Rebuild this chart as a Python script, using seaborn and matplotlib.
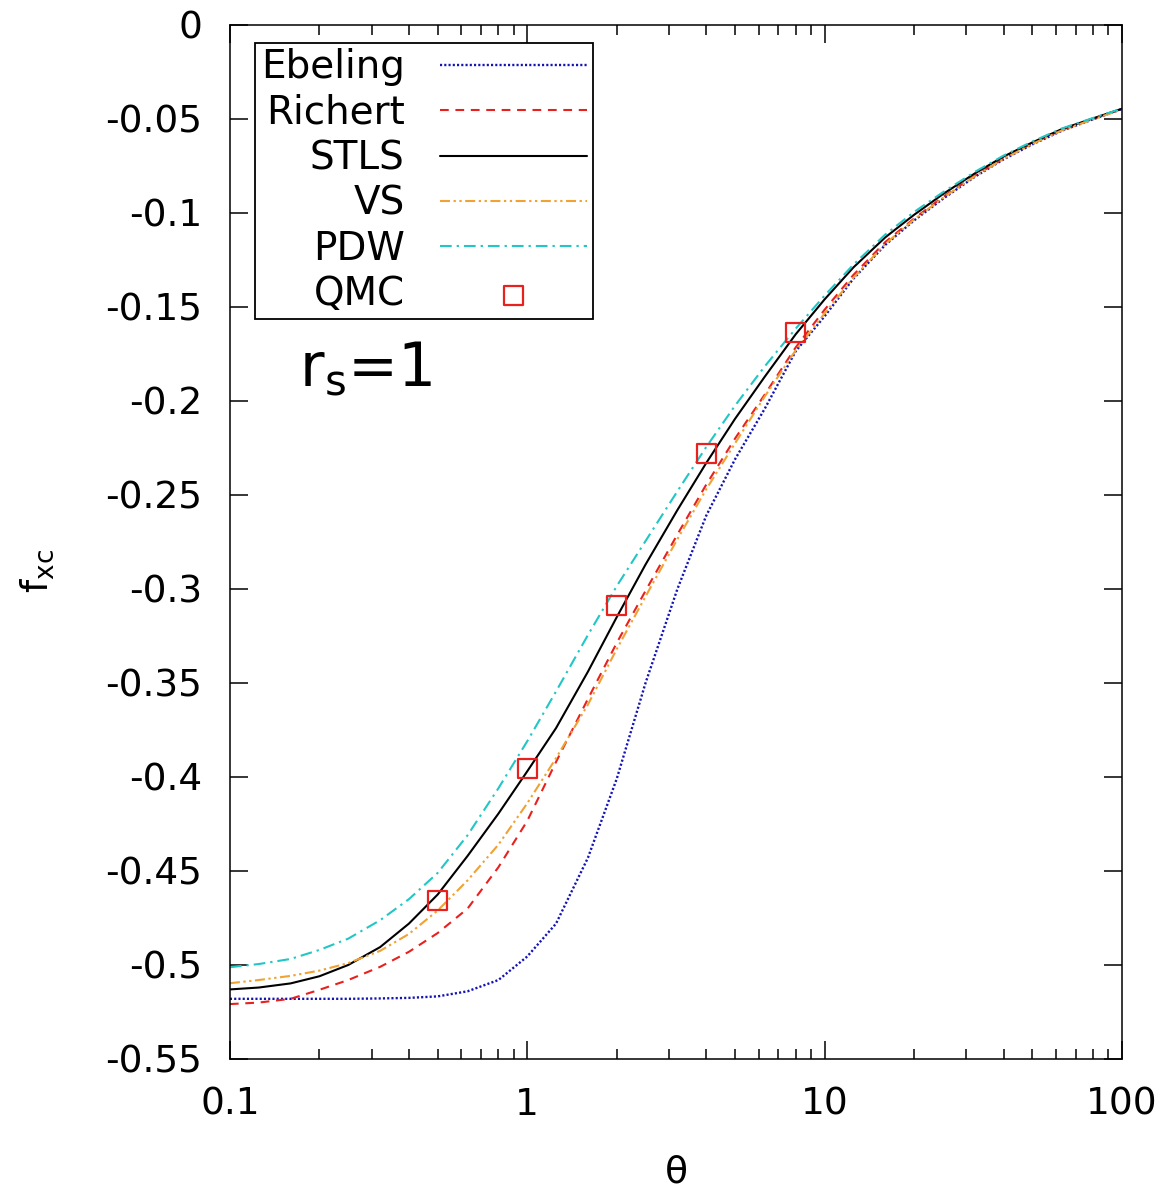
import numpy as np
import matplotlib
matplotlib.use('Agg')
import matplotlib.pyplot as plt
from matplotlib.ticker import FixedLocator, FuncFormatter
import seaborn as sns

# theta grid, f_xc values
theta = [0.1, 0.125, 0.16, 0.2, 0.25, 0.32, 0.4, 0.5, 0.63, 0.8,
         1.0, 1.25, 1.6, 2.0, 2.5, 3.2, 4.0, 5.0, 6.3, 8.0,
         10, 12.5, 16, 20, 25, 32, 40, 50, 63, 80, 100]

ebeling = [-0.5180, -0.5180, -0.5180, -0.5180, -0.5180, -0.5178, -0.5175, -0.5167, -0.5140, -0.5080,
           -0.4955, -0.4780, -0.4430, -0.4010, -0.3500, -0.3000, -0.2610, -0.2310, -0.2040, -0.1735,
           -0.1550, -0.1350, -0.1170, -0.1040, -0.0925, -0.0808, -0.0715, -0.0635, -0.0562, -0.0502, -0.0447]
richert = [-0.5208, -0.5200, -0.5180, -0.5132, -0.5080, -0.5010, -0.4930, -0.4830, -0.4700, -0.4480,
           -0.4234, -0.3920, -0.3585, -0.3287, -0.3010, -0.2710, -0.2445, -0.2200, -0.1965, -0.1715,
           -0.1515, -0.1330, -0.1155, -0.1030, -0.0915, -0.0802, -0.0710, -0.0630, -0.0558, -0.0500, -0.0447]
stls = [-0.5130, -0.5120, -0.5098, -0.5060, -0.5000, -0.4905, -0.4780, -0.4625, -0.4420, -0.4195,
        -0.3970, -0.3740, -0.3440, -0.3150, -0.2870, -0.2580, -0.2330, -0.2095, -0.1870, -0.1645,
        -0.1460, -0.1290, -0.1130, -0.1010, -0.0900, -0.0790, -0.0700, -0.0625, -0.0553, -0.0497, -0.0446]
vs = [-0.5097, -0.5080, -0.5058, -0.5030, -0.4990, -0.4925, -0.4835, -0.4710, -0.4550, -0.4360,
      -0.4140, -0.3900, -0.3615, -0.3320, -0.3040, -0.2735, -0.2470, -0.2225, -0.1975, -0.1730,
      -0.1535, -0.1345, -0.1165, -0.1035, -0.0920, -0.0805, -0.0713, -0.0633, -0.0560, -0.0502, -0.0450]
pdw = [-0.5012, -0.4995, -0.4968, -0.4920, -0.4860, -0.4762, -0.4650, -0.4510, -0.4310, -0.4060,
       -0.3810, -0.3545, -0.3245, -0.2985, -0.2745, -0.2480, -0.2245, -0.2025, -0.1815, -0.1615,
       -0.1440, -0.1275, -0.1115, -0.0995, -0.0890, -0.0782, -0.0695, -0.0620, -0.0550, -0.0495, -0.0445]

qmc_theta = [0.5, 1, 2, 4, 8]
qmc_fxc = [-0.4655, -0.3955, -0.3090, -0.2280, -0.1635]

y_ticks = [0, -0.05, -0.1, -0.15, -0.2, -0.25, -0.3, -0.35, -0.4, -0.45, -0.5, -0.55]
x_ticks = [0.1, 1, 10, 100]

sns.set_style('ticks')
plt.rcParams['font.family'] = ['DejaVu Sans']
plt.rcParams['axes.unicode_minus'] = False
plt.rcParams['text.color'] = 'black'
plt.rcParams['axes.labelcolor'] = 'black'
plt.rcParams['xtick.color'] = 'black'
plt.rcParams['ytick.color'] = 'black'

fig = plt.figure(figsize=(11.73, 11.88), dpi=100)
ax = fig.add_axes([0.196, 0.1086, 0.7604, 0.8704])

lw = 1.5
sns.lineplot(x=theta, y=ebeling, ax=ax, color='#1414b4', lw=1.7, linestyle=(0, (0.9, 0.9)), label='Ebeling')
sns.lineplot(x=theta, y=richert, ax=ax, color='#e8201e', lw=lw, linestyle=(0, (4.2, 3.2)), label='Richert')
sns.lineplot(x=theta, y=stls, ax=ax, color='black', lw=lw, linestyle='-', label='STLS')
sns.lineplot(x=theta, y=vs, ax=ax, color='#f0a232', lw=lw,
             linestyle=(0, (4.8, 1.7, 1.1, 1.7, 1.1, 1.7)), label='VS')
sns.lineplot(x=theta, y=pdw, ax=ax, color='#22c6c6', lw=lw,
             linestyle=(0, (5.6, 2.4, 1.1, 2.4)), label='PDW')
sns.scatterplot(x=qmc_theta, y=qmc_fxc, ax=ax, marker='s', s=190, facecolors='none',
                edgecolor='#e8201e', linewidth=1.6, label='QMC', zorder=5)

ax.set_xscale('log')
ax.set_xlim(0.1, 100)
ax.set_ylim(-0.55, 0)
ax.xaxis.set_major_locator(FixedLocator(x_ticks))
ax.xaxis.set_major_formatter(FuncFormatter(lambda v, p: '%g' % v))
ax.yaxis.set_major_locator(FixedLocator(y_ticks))
ax.yaxis.set_major_formatter(FuncFormatter(lambda v, p: '%g' % round(v, 2)))

ax.tick_params(axis='both', which='major', direction='in', length=13, width=1.1,
               top=True, right=True, labelsize=27, color='black')
ax.tick_params(axis='both', which='minor', direction='in', length=7, width=1.1,
               top=True, right=True)
ax.tick_params(axis='x', which='major', pad=20)
ax.tick_params(axis='y', which='major', pad=20)
for sp in ax.spines.values():
    sp.set_linewidth(1.1)
    sp.set_color('black')

ax.set_xlabel('θ', fontsize=27)
ax.xaxis.set_label_coords(0.5, -0.092)
ax.set_ylabel('f$_\\mathregular{xc}$', fontsize=27)
ax.yaxis.set_label_coords(-0.195, 0.472)

ax.text(0.078, 0.65, 'r$_\\mathregular{s}$=1', transform=ax.transAxes, fontsize=43,
        ha='left', va='baseline')

leg = ax.legend(loc='upper left', bbox_to_anchor=(0.028, 0.983), borderaxespad=0,
                markerfirst=False, fontsize=28, handlelength=3.8, handletextpad=0.9,
                labelspacing=0.19, borderpad=0.15, fancybox=False, framealpha=1,
                edgecolor='black')
leg.get_frame().set_linewidth(1.3)

fig.savefig('out.png', dpi=100, facecolor='white')
